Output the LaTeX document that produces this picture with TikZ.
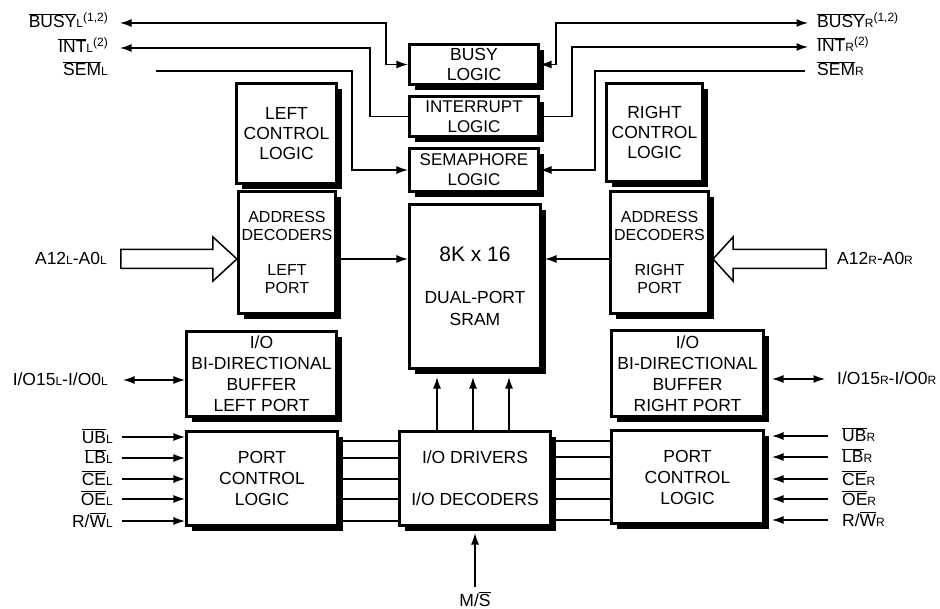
\documentclass[tikz,border=0pt]{standalone}
\usepackage{fontspec}
\setmainfont{Liberation Sans}
\usetikzlibrary{arrows.meta,shadows}
\newcommand\myov[1]{$\overline{\hbox{#1}}$}
\newcommand\mysm[1]{{\fontsize{12}{12}\selectfont #1}}
\newcommand\mysup[1]{\raisebox{6.5pt}{\fontsize{12}{12}\selectfont #1}}
\begin{document}
\begin{tikzpicture}[x=1pt,y=-1pt,
  >={Latex[length=11.5pt,width=8pt]},
  box/.style={draw, line width=2.6pt, fill=white, align=center, inner sep=0pt,
    drop shadow={shadow xshift=5.5pt, shadow yshift=-5.5pt, fill=black, opacity=1},
    font=\fontsize{17.5}{20}\selectfont},
  wire/.style={line width=1.3pt},
  lbl/.style={font=\fontsize{17.5}{20}\selectfont, inner sep=0pt},
  bigarrow/.style={line width=1.5pt, fill=white, line join=miter}]
\useasboundingbox (0,0) rectangle (940,609);

% ---- boxes ----
\node[box, minimum width=100.4pt, minimum height=100.4pt] (lcl) at (286.5,133.5) {LEFT\\CONTROL\\LOGIC};
\node[box, minimum width=96.5pt, minimum height=98.5pt] (rcl) at (654.5,132.5) {RIGHT\\CONTROL\\LOGIC};
\node[box, minimum width=129.5pt, minimum height=40.5pt] (busy) at (474,64.5) {BUSY\\LOGIC};
\node[box, font=\fontsize{17}{20}\selectfont, minimum width=129.5pt, minimum height=40.5pt] (intr) at (474,116.5) {INTERRUPT\\LOGIC};
\node[box, font=\fontsize{17}{20}\selectfont, minimum width=129.5pt, minimum height=43.5pt] (sema) at (474,170) {SEMAPHORE\\LOGIC};
\node[box, font=\fontsize{16}{17.5}\selectfont, minimum width=97.5pt, minimum height=122.5pt] (adl) at (287,252.5) {ADDRESS\\DECODERS\\[18pt]LEFT\\PORT};
\node[box, font=\fontsize{16}{17.5}\selectfont, minimum width=98.5pt, minimum height=122.5pt] (adr) at (659.5,252.5) {ADDRESS\\DECODERS\\[18pt]RIGHT\\PORT};
\node[box, font=\fontsize{17.5}{21.5}\selectfont, minimum width=131.5pt, minimum height=164.5pt] (sram) at (475,286.5) {{\fontsize{21}{21}\selectfont 8K x 16}\\[20.5pt]DUAL-PORT\\SRAM};
\node[box, font=\fontsize{17.5}{21}\selectfont, minimum width=150.5pt, minimum height=85.5pt] (iobl) at (261.5,374) {I/O\\BI-DIRECTIONAL\\BUFFER\\LEFT PORT};
\node[box, font=\fontsize{17.5}{21}\selectfont, minimum width=152.5pt, minimum height=86.5pt] (iobr) at (687.5,373.5) {I/O\\BI-DIRECTIONAL\\BUFFER\\RIGHT PORT};
\node[box, font=\fontsize{17.5}{21}\selectfont, minimum width=151.5pt, minimum height=94.5pt] (pcl) at (262,478.5) {PORT\\CONTROL\\LOGIC};
\node[box, minimum width=151.5pt, minimum height=94.5pt] (iod) at (475,478.5) {I/O DRIVERS\\[22pt]I/O DECODERS};
\node[box, font=\fontsize{17.5}{21}\selectfont, minimum width=152.5pt, minimum height=93.5pt] (pcr) at (687.5,477) {PORT\\CONTROL\\LOGIC};

% ---- top signals ----
\coordinate (bL) at (120,23);
\coordinate (iL) at (120,48);
\coordinate (sL) at (156,71);
\coordinate (bR) at (808,23);
\coordinate (iR) at (808,47);
\coordinate (sR) at (805,71);
\draw[wire,<->] (bL) -| ([xshift=-22pt]busy.west) -- (busy.west);
\draw[wire,<-] (iL) -| ([xshift=-38pt]intr.west) -- (intr.west);
\draw[wire,->] (sL) -| ([xshift=-56pt]sema.west) -- (sema.west);
\draw[wire,<->] (bR) -| ([xshift=16pt]busy.east) -- (busy.east);
\draw[wire,<-] (iR) -| ([xshift=32pt]intr.east) -- (intr.east);
\draw[wire,->] (sR) -| ([xshift=55pt]sema.east) -- (sema.east);

\node[lbl, anchor=base east] (tbL) at (108,28) {\myov{BUSY}\mysm{L}\mysup{(1,2)}};
\node[lbl, anchor=base east] (tiL) at (108,53) {\myov{INT}\mysm{L}\mysup{(2)}};
\node[lbl, anchor=base east] (tsL) at (108,76) {\myov{SEM}\mysm{L}};
\node[lbl, anchor=base west] (tbR) at (817,28) {\myov{BUSY}\mysm{R}\mysup{(1,2)}};
\node[lbl, anchor=base west] (tiR) at (817,52) {\myov{INT}\mysm{R}\mysup{(2)}};
\node[lbl, anchor=base west] (tsR) at (817,76) {\myov{SEM}\mysm{R}};

% ---- address ----
\coordinate (yA) at (0,259);
\coordinate (aLtip) at (adl.west |- yA);
\coordinate (adrE) at ([xshift=3pt]adr.east);
\coordinate (aRtip) at (adrE |- yA);
\draw[bigarrow] (aLtip) -- ++(-24,-22) -- ++(0,12.5) -- ++(-92,0) -- ++(0,19) -- ++(92,0) -- ++(0,12.5) -- cycle;
\draw[bigarrow] (aRtip) -- ++(20,-22) -- ++(0,12.5) -- ++(93,0) -- ++(0,19) -- ++(-93,0) -- ++(0,12.5) -- cycle;
\node[lbl, anchor=base east] (taL) at (107,265) {A12\mysm{L}-A0\mysm{L}};
\node[lbl, anchor=base west] (taR) at (837,265) {A12\mysm{R}-A0\mysm{R}};
\coordinate (sramE) at ([xshift=3pt]sram.east);
\draw[wire,->] (adl.east |- yA) -- (sram.west |- yA);
\draw[wire,->] (adr.west |- yA) -- (sramE |- yA);

% ---- I/O buffers ----
\coordinate (ioL) at (123,380);
\coordinate (ioR) at (825,379);
\coordinate (iobrE) at ([xshift=7pt]iobr.east);
\draw[wire,<->] (ioL) -- (iobl.west |- ioL);
\draw[wire,<->] (ioR) -- (iobrE |- ioR);
\node[lbl, anchor=base east] (tioL) at (108,386) {I/O15\mysm{L}-I/O0\mysm{L}};
\node[lbl, anchor=base west] (tioR) at (837,385) {I/O15\mysm{R}-I/O0\mysm{R}};

% ---- port control pins ----
\foreach \y/\n in {437/1,458/2,479/3,499/4,521/5} {
  \coordinate (pl\n) at (122,\y);
  \draw[wire,->] (pl\n) -- (pcl.west |- pl\n);
}
\coordinate (pcrE) at ([xshift=7pt]pcr.east);
\foreach \y/\n in {436/1,457/2,479/3,499/4,520/5} {
  \coordinate (pr\n) at (828,\y);
  \draw[wire,->] (pr\n) -- (pcrE |- pr\n);
}
\node[lbl, anchor=base east] (tubL) at (113,443) {\myov{UB}\mysm{L}};
\node[lbl, anchor=base east] (tlbL) at (113,464) {\myov{LB}\mysm{L}};
\node[lbl, anchor=base east] (tceL) at (113,485) {\myov{CE}\mysm{L}};
\node[lbl, anchor=base east] (toeL) at (113,505) {\myov{OE}\mysm{L}};
\node[lbl, anchor=base east] (trwL) at (113,527) {R/\myov{W}\mysm{L}};
\node[lbl, anchor=base west] (tubR) at (842,442) {\myov{UB}\mysm{R}};
\node[lbl, anchor=base west] (tlbR) at (842,463) {\myov{LB}\mysm{R}};
\node[lbl, anchor=base west] (tceR) at (842,485) {\myov{CE}\mysm{R}};
\node[lbl, anchor=base west] (toeR) at (842,505) {\myov{OE}\mysm{R}};
\node[lbl, anchor=base west] (trwR) at (842,526) {R/\myov{W}\mysm{R}};

% ---- buses to I/O drivers ----
\foreach \y/\n in {441/1,458/2,479/3,499/4,521/5} {
  \coordinate (bl\n) at (0,\y);
  \draw[wire] (pcl.east |- bl\n) -- (iod.west |- bl\n);
}
\foreach \y/\n in {441/1,457/2,479/3,499/4,520/5} {
  \coordinate (br\n) at (0,\y);
  \draw[wire] (iod.east |- br\n) -- (pcr.west |- br\n);
}

% ---- drivers to SRAM ----
\foreach \dx in {-38,-2,34} {
  \draw[wire,->] ([xshift=\dx pt]iod.north) -- ([xshift=\dx pt, yshift=-7pt]sram.south);
}

% ---- M/S ----
\coordinate (ms) at (475,587);
\draw[wire,->] (ms) -- ([yshift=-6pt]iod.south);
\node[lbl, anchor=base] (tms) at (475,606) {M/\myov{S}};
\end{tikzpicture}
\end{document}
